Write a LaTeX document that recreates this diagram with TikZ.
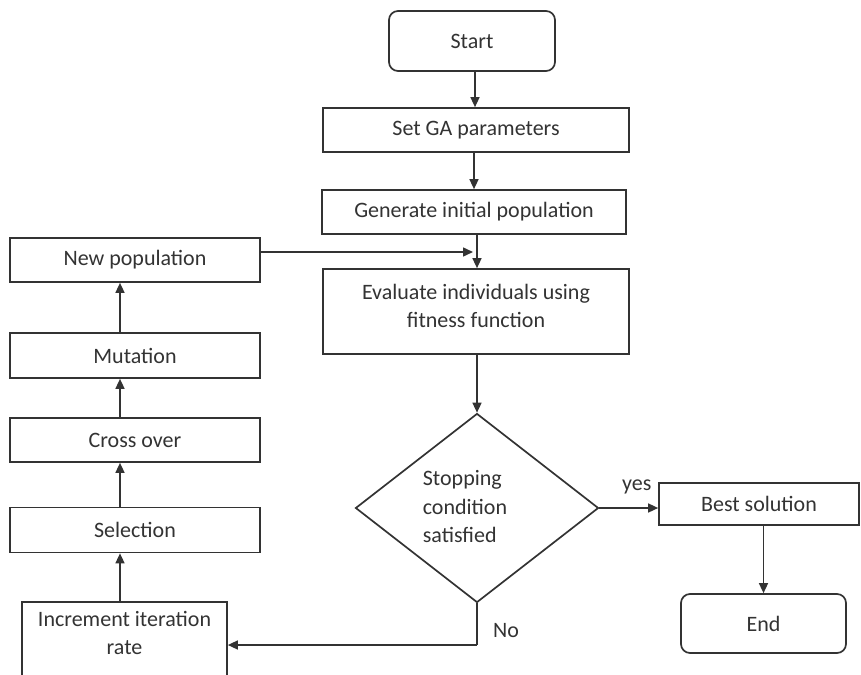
\documentclass[tikz,border=0pt]{standalone}
\usepackage{fontspec}
\setmainfont{Carlito}
\usetikzlibrary{shapes.geometric,arrows.meta}
\definecolor{linec}{HTML}{333333}
\definecolor{textc}{HTML}{333333}
\begin{document}
\begin{tikzpicture}[x=1pt,y=-1pt,
  box/.style={draw=linec, line width=1.7pt, fill=white, inner sep=0pt, text=textc,
    font=\fontsize{22}{28.5}\selectfont, align=center},
  rbox/.style={box, rounded corners=9pt},
  lbl/.style={text=textc, font=\fontsize{22}{28.5}\selectfont, inner sep=0pt},
  arr/.style={draw=linec, line width=1.5pt, -{Triangle[length=10pt,width=9pt]}},
  ln/.style={draw=linec, line width=1.5pt}]
\useasboundingbox (0,0) rectangle (861,674);
\clip (0,0) rectangle (861,674);
% nodes
\node[rbox, minimum width=166pt, minimum height=60pt] (start) at (472,41) {Start};
\node[box, minimum width=306pt, minimum height=44pt] (set) at (476,130) {Set GA parameters};
\node[box, minimum width=304pt, minimum height=44pt] (gen) at (474,212) {Generate initial population};
\node[box, minimum width=306pt, minimum height=85pt] (eval) at (476,311.5) {};
\node[lbl, align=center] (evaltext) at (476,306) {Evaluate individuals using\\fitness function};
\node[box, shape=diamond, minimum width=243pt, minimum height=189pt] (dia) at (477,508) {};
\node[lbl, align=left] (diatext) at (465,507) {Stopping\\condition\\satisfied};
\node[box, minimum width=200pt, minimum height=42pt] (best) at (759,504) {Best solution};
\node[rbox, minimum width=165pt, minimum height=59pt] (end) at (763.5,623.5) {End};
\node[box, minimum width=250pt, minimum height=44pt] (newpop) at (135,260) {New population};
\node[box, minimum width=250pt, minimum height=45pt] (mut) at (135,355.5) {Mutation};
\node[box, minimum width=250pt, minimum height=44pt] (cross) at (135,440) {Cross over};
\node[box, minimum width=250pt, minimum height=45pt] (sel) at (135,530) {Selection};
\node[box, minimum width=205pt, minimum height=110pt, anchor=north] (inc) at (124.5,601) {};
\node[lbl, align=center, anchor=north] (inctext) at ([yshift=-10pt]inc.north) {Increment iteration\\rate};
% helper coordinates
\coordinate (colx) at (120,0);
\coordinate (join) at (477,252);
\coordinate (nocorner) at (477,645);
% connectors
\draw[arr] (start.south -| 475,0) -- (set.north -| 475,0);
\draw[arr] (set.south -| 474,0) -- (gen.north -| 474,0);
\draw[arr] (gen.south -| join) -- (eval.north -| join);
\draw[arr, shorten >=4pt] (newpop.east |- join) -- (join);
\draw[arr] (eval.south -| dia.north) -- (dia.north);
\draw[arr] (dia.east) -- (best.west |- dia.east);
\node[lbl, anchor=south west] (yes) at (622,494) {yes};
\draw[ln] (dia.south) -- (nocorner);
\draw[arr] (nocorner) -- (inc.east |- nocorner);
\node[lbl, anchor=west] (no) at (493,631) {No};
\draw[arr] (colx |- inc.north) -- (colx |- sel.south);
\draw[arr] (colx |- sel.north) -- (colx |- cross.south);
\draw[arr] (colx |- cross.north) -- (colx |- mut.south);
\draw[arr] (colx |- mut.north) -- (colx |- newpop.south);
\draw[arr] (best.south -| end.north) -- (end.north);
\end{tikzpicture}
\end{document}
